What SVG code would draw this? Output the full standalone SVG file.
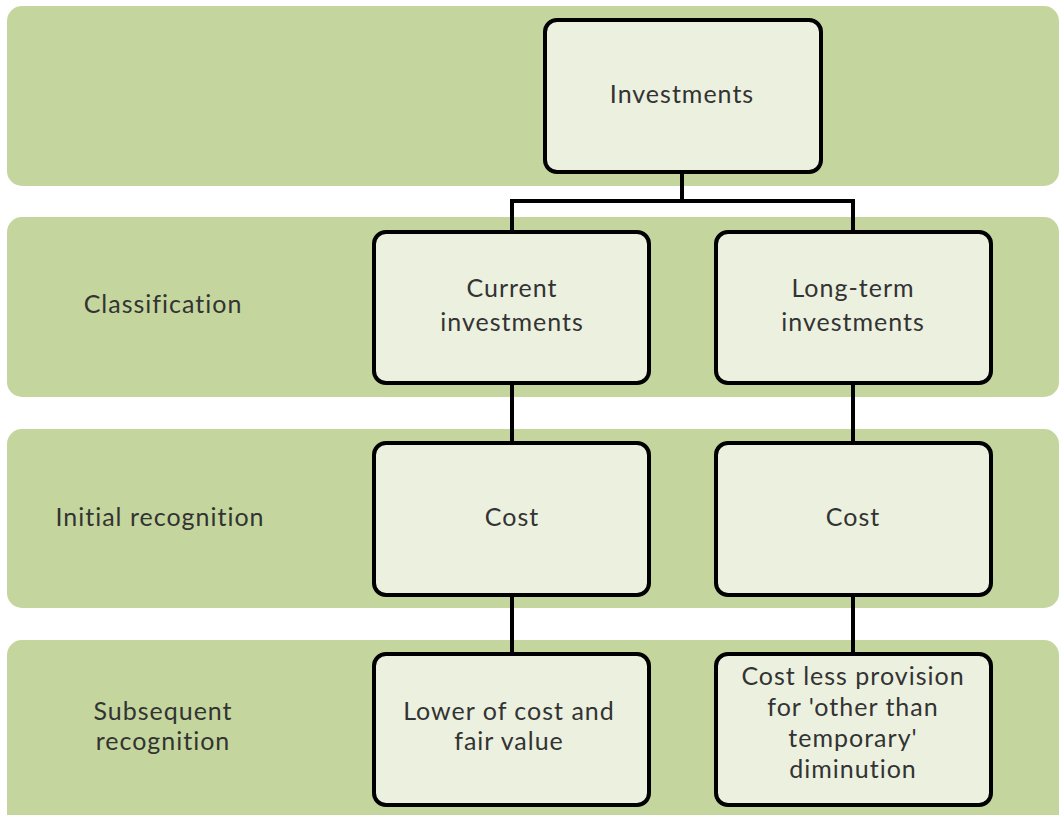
<svg xmlns="http://www.w3.org/2000/svg" width="1059" height="815" viewBox="0 0 1059 815">
<style>
.band{fill:#c4d69d}
.node{fill:#ebf0df;stroke:#000;stroke-width:4}
.t{font-family:Lato,"Open Sans","Liberation Sans",sans-serif;font-size:25px;letter-spacing:1px;fill:#333;text-anchor:middle}
.c{fill:none;stroke:#000;stroke-width:4}
</style>
<rect width="1059" height="815" fill="#fff"/>
<g id="bands">
<rect class="band" x="7" y="6" width="1052" height="180" rx="15"/>
<rect class="band" x="7" y="217" width="1052" height="180" rx="15"/>
<rect class="band" x="7" y="429" width="1052" height="179" rx="15"/>
<rect class="band" x="7" y="640" width="1052" height="195" rx="15"/>
</g>
<g id="row-labels">
<text class="t" x="163" y="313">Classification</text>
<text class="t" x="160" y="526">Initial recognition</text>
<text class="t" x="163" y="720">Subsequent</text>
<text class="t" x="163" y="750">recognition</text>
</g>
<g id="connectors">
<path class="c" d="M682 172V201M512 231V201H853V231"/>
<path class="c" d="M512 383V443M853 383V443M512 595V654M853 595V654"/>
</g>
<g id="investments">
<rect class="node" x="545" y="20" width="276" height="152" rx="12"/>
<text class="t" x="682" y="103">Investments</text>
</g>
<g id="current">
<rect class="node" x="374" y="232" width="275" height="151" rx="12"/>
<text class="t" x="512" y="297">Current</text>
<text class="t" x="512" y="331">investments</text>
</g>
<g id="longterm">
<rect class="node" x="716" y="232" width="275" height="151" rx="12"/>
<text class="t" x="853" y="297">Long-term</text>
<text class="t" x="853" y="331">investments</text>
</g>
<g id="cost-current">
<rect class="node" x="374" y="443" width="275" height="152" rx="12"/>
<text class="t" x="512" y="526">Cost</text>
</g>
<g id="cost-longterm">
<rect class="node" x="716" y="443" width="275" height="152" rx="12"/>
<text class="t" x="853" y="526">Cost</text>
</g>
<g id="lower">
<rect class="node" x="374" y="654" width="275" height="151" rx="12"/>
<text class="t" x="509" y="720">Lower of cost and</text>
<text class="t" x="509" y="750">fair value</text>
</g>
<g id="provision">
<rect class="node" x="716" y="654" width="275" height="151" rx="12"/>
<text class="t" x="853" y="685">Cost less provision</text>
<text class="t" x="853" y="716">for 'other than</text>
<text class="t" x="853" y="747">temporary'</text>
<text class="t" x="853" y="778">diminution</text>
</g>
</svg>
